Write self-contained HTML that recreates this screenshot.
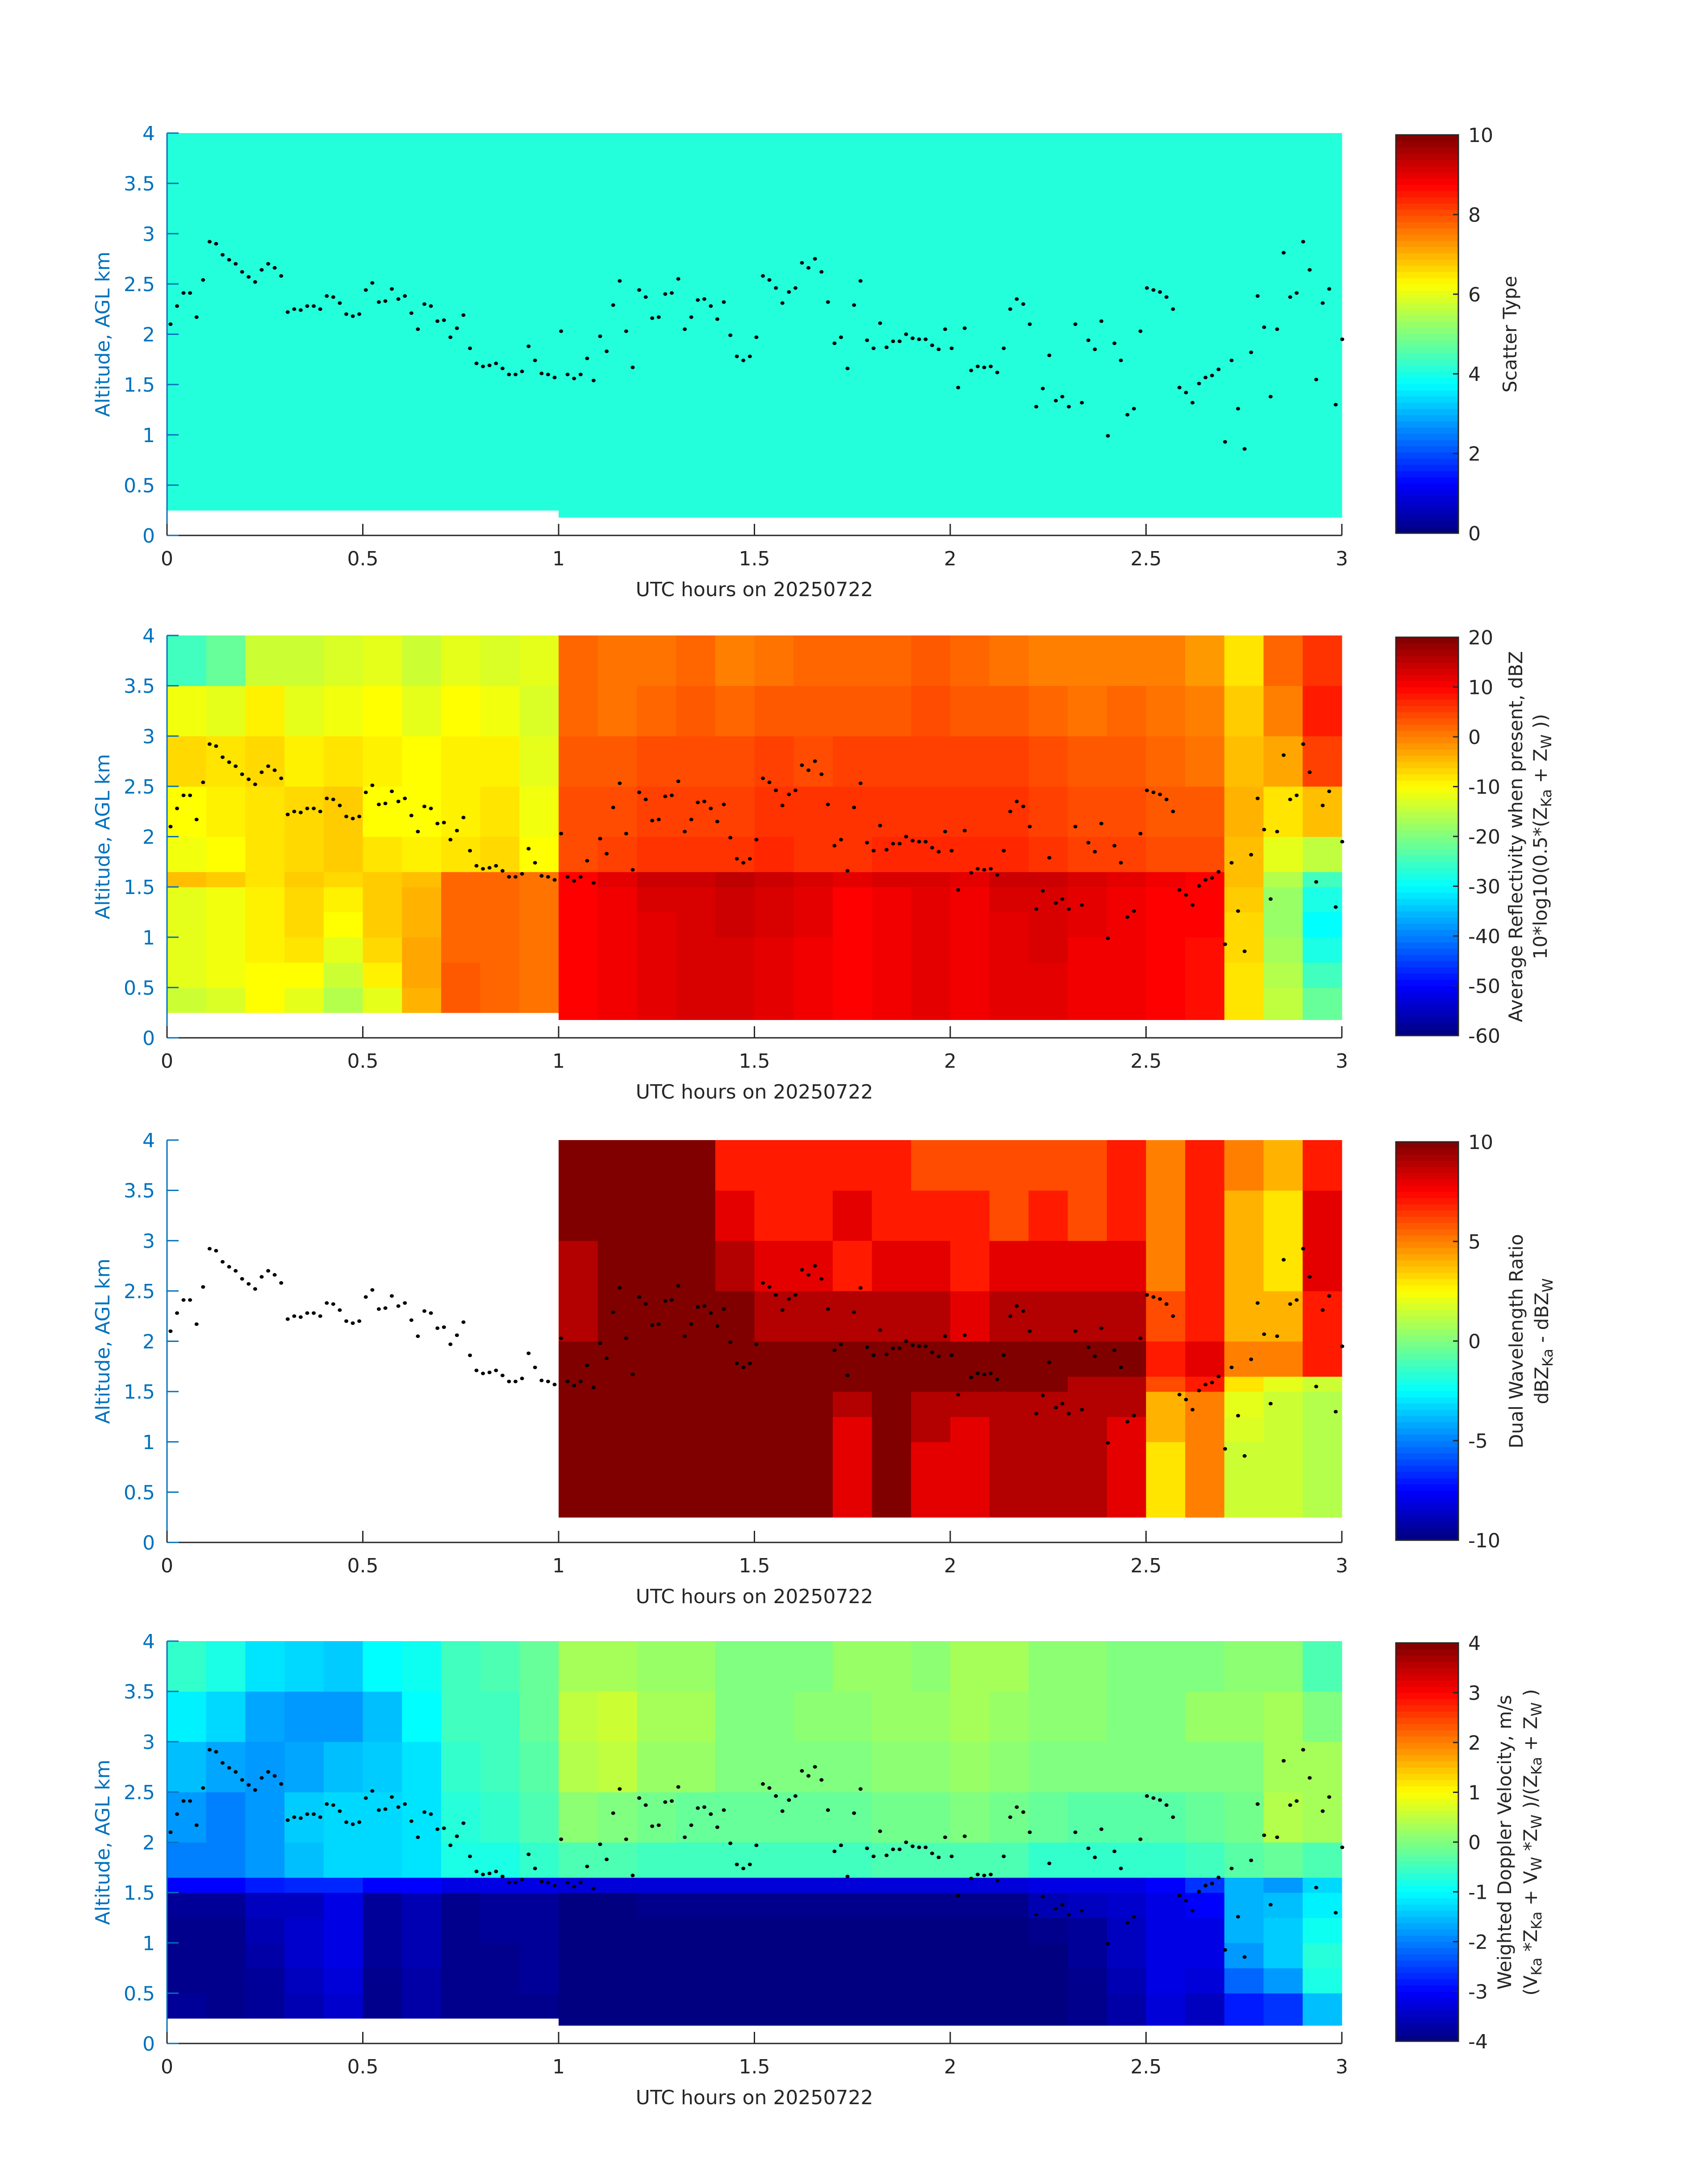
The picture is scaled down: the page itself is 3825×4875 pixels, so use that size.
<!DOCTYPE html>
<html><head><meta charset="utf-8"><style>
html,body{margin:0;padding:0;background:#fff;}
svg{display:block;font-family:"DejaVu Sans","Liberation Sans",sans-serif;}
</style></head><body>
<svg id="fig" xmlns="http://www.w3.org/2000/svg" width="3825" height="4875" viewBox="0 0 3825 4875"></svg>
<script>
// ---- data ----
const altEdges = [0.25,0.5,0.75,1.0,1.25,1.5,1.65,2.0,2.5,3.0,3.5,4.0];
const timeBins = [0,0.1,0.2,0.3,0.4,0.5,0.6,0.7,0.8,0.9,1.0,1.1,1.2,1.3,1.4,1.5,1.6,1.7,1.8,1.9,2.0,2.1,2.2,2.3,2.4,2.5,2.6,2.7,2.8,2.9];
const scatterValue = 4.1;
const reflectivity = [
[-14,-12,-12,-12,-12,-5,-11,-10,-7,-11,-25],
[-13,-11,-11,-11,-11,-6,-10,-9,-8,-12,-22],
[-10,-10,-9,-9,-9,-8,-8,-8,-7,-9,-14],
[-12,-10,-8,-7,-7,-6,-7,-7,-9,-12,-14],
[-16,-14,-12,-10,-9,-7,-6,-6,-8,-11,-13],
[-12,-9,-7,-6,-6,-6,-8,-10,-9,-10,-12],
[-4,-3,-3,-4,-4,-5,-9,-10,-10,-12,-14],
[3,3,2,2,2,2,-8,-9,-9,-10,-12],
[2,2,2,2,2,2,-7,-8,-9,-11,-13],
[1,1,1,1,1,1,-10,-11,-12,-13,-12],
[10,10,10,10,10,10,4,4,3,2,2],
[11,11,11,11,11,12,5,4,3,1,1],
[12,12,12,12,13,14,6,5,4,2,1],
[13,13,13,13,13,14,6,5,4,3,2],
[13,13,13,14,14,15,6,5,4,2,0],
[12,12,12,13,13,14,7,6,5,3,1],
[11,11,11,12,12,13,6,6,4,3,2],
[10,10,10,10,10,12,6,6,5,3,2],
[11,11,11,11,11,13,7,6,5,3,2],
[12,12,12,12,12,13,7,6,5,4,3],
[11,11,11,11,11,12,7,6,5,3,2],
[12,12,12,12,13,14,7,6,5,3,1],
[12,12,13,13,13,14,6,5,4,2,0],
[11,11,11,12,12,13,5,4,3,1,0],
[11,11,11,11,11,12,5,4,3,2,0],
[10,10,10,10,10,11,4,3,2,1,0],
[9,9,9,10,10,10,4,3,1,0,-2],
[-8,-8,-7,-7,-6,-5,-5,-4,-5,-6,-8],
[-15,-16,-17,-18,-18,-16,-12,-8,-3,0,2],
[-22,-25,-28,-30,-28,-25,-15,-5,5,8,6]
];
const dwr = [
null,null,null,null,null,null,null,null,null,null,
[10,10,10,10,10,10,10,9,9,10,10],
[10,10,10,10,10,10,10,10,10,10,10],
[10,10,10,10,10,10,10,10,10,10,10],
[10,10,10,10,10,10,10,10,10,10,10],
[10,10,10,10,10,10,10,10,9,8,7],
[10,10,10,10,10,10,10,9,8,7,7],
[10,10,10,10,10,10,10,9,8,7,7],
[8,8,8,8,9,10,10,9,7,8,7],
[10,10,10,10,10,10,10,9,8,7,7],
[8,8,8,9,9,10,10,9,8,7,6],
[8,8,8,8,9,10,10,8,7,7,6],
[9,9,9,9,9,10,10,9,8,6,6],
[9,9,9,9,9,10,10,9,8,7,6],
[9,9,9,9,9,9,10,9,8,6,6],
[8,8,8,8,9,9,10,9,8,7,7],
[3,3,3,4,4,6,7,6,5,5,5],
[5,5,5,5,5,7,8,7,7,7,7],
[1.5,1.5,1.5,1.8,2,3,5,4,4,4,5],
[1.5,1.5,1.5,1.5,1.5,2,5,4,3,3,4],
[1,1,1,1,1,1.5,7,7,8,8,7]
];
const velocity = [
[-3.8,-3.9,-3.9,-3.9,-3.8,-3,-2,-1.8,-1.5,-1.1,-0.6],
[-3.9,-3.9,-3.9,-3.9,-3.8,-3,-2,-2,-1.7,-1.3,-0.8],
[-3.8,-3.8,-3.7,-3.6,-3.5,-2.8,-1.8,-1.8,-1.8,-1.7,-1.2],
[-3.6,-3.5,-3.4,-3.4,-3.5,-2.7,-1.5,-1.4,-1.7,-1.8,-1.3],
[-3.4,-3.3,-3.2,-3.2,-3.2,-2.7,-1.3,-1.3,-1.5,-1.8,-1.4],
[-3.9,-3.9,-3.8,-3.8,-3.8,-3,-1.3,-1.3,-1.4,-1.5,-1.0],
[-3.7,-3.7,-3.6,-3.6,-3.6,-3,-1.2,-1.2,-1.2,-1.0,-0.9],
[-3.9,-3.9,-3.9,-3.9,-3.9,-3.2,-0.8,-0.7,-0.6,-0.5,-0.5],
[-3.9,-3.9,-3.9,-3.8,-3.8,-3.2,-0.8,-0.6,-0.5,-0.5,-0.4],
[-3.9,-3.8,-3.8,-3.8,-3.8,-3.2,-0.6,-0.4,-0.3,-0.2,-0.2],
[-4,-4,-4,-4,-4,-3.3,-0.4,0.1,0.4,0.5,0.3],
[-4,-4,-4,-4,-4,-3.3,-0.4,0,0.5,0.6,0.3],
[-4,-4,-4,-4,-3.9,-3.3,-0.5,-0.1,0.2,0.3,0.2],
[-4,-4,-4,-4,-3.9,-3.3,-0.5,-0.2,0.2,0.3,0.2],
[-4,-4,-4,-4,-3.9,-3.3,-0.5,-0.2,0,0,0],
[-4,-4,-4,-4,-3.9,-3.3,-0.5,-0.2,0,0,0],
[-4,-4,-4,-4,-3.9,-3.3,-0.5,-0.2,0,0.1,0],
[-4,-4,-4,-4,-3.9,-3.3,-0.5,-0.2,0,0.1,0.2],
[-4,-4,-4,-4,-3.9,-3.3,-0.4,-0.1,0.1,0.2,0.2],
[-4,-4,-4,-4,-3.9,-3.3,-0.4,-0.1,0.1,0.2,0.1],
[-4,-4,-4,-4,-3.9,-3.3,-0.4,0,0.2,0.3,0.3],
[-4,-4,-4,-4,-3.9,-3.3,-0.4,-0.1,0.1,0.2,0.3],
[-4,-4,-4,-3.9,-3.6,-3.2,-0.6,-0.2,0,0.1,0.1],
[-3.9,-3.9,-3.8,-3.8,-3.5,-3.2,-0.6,-0.3,0,0.1,0.1],
[-3.7,-3.6,-3.5,-3.5,-3.4,-3.2,-0.6,-0.3,0,0,0],
[-3.3,-3.2,-3.2,-3.2,-3.2,-3,-0.6,-0.3,0,0,0],
[-3.5,-3.3,-3.2,-3.2,-3,-2.6,-0.5,-0.2,0,0.2,0],
[-2.8,-2.2,-1.8,-1.6,-1.6,-1.6,-0.3,-0.1,0,0.2,0.1],
[-2.6,-1.8,-1.4,-1.4,-1.5,-1.8,-0.2,0.4,0.3,0.3,0.1],
[-1.5,-0.8,-0.7,-0.9,-1.1,-1.3,-0.4,0.3,0.3,0,-0.4]
];
const cloudTop = [2.10,2.28,2.41,2.41,2.17,2.54,2.92,2.90,2.79,2.74,2.70,2.62,2.57,2.52,2.64,2.70,2.66,2.58,2.22,2.25,2.24,2.28,2.28,2.25,2.38,2.37,2.31,2.20,2.18,2.20,2.44,2.51,2.32,2.33,2.45,2.35,2.38,2.21,2.05,2.30,2.28,2.13,2.14,1.97,2.06,2.19,1.86,1.71,1.68,1.69,1.71,1.66,1.60,1.60,1.63,1.88,1.74,1.61,1.60,1.57,2.03,1.60,1.56,1.60,1.76,1.54,1.98,1.83,2.29,2.53,2.03,1.67,2.44,2.37,2.16,2.17,2.40,2.41,2.55,2.05,2.17,2.34,2.35,2.28,2.15,2.32,1.99,1.78,1.74,1.78,1.97,
2.58,2.54,2.46,2.31,2.42,2.46,2.71,2.66,2.75,2.62,2.32,1.91,1.97,1.66,2.29,2.53,1.94,1.86,2.11,1.87,1.93,1.93,2.00,1.96,1.95,1.95,1.89,1.85,2.05,1.86,1.47,2.06,1.64,1.68,1.67,1.68,1.62,1.86,2.25,2.35,2.30,2.10,1.28,1.46,1.79,1.34,1.38,1.28,2.10,1.32,1.94,1.85,2.13,0.99,1.91,1.74,1.20,1.26,2.03,2.46,2.44,2.42,2.37,2.25,1.47,1.42,1.32,1.51,1.57,1.59,1.65,0.93,1.74,1.26,0.86,1.82,2.38,2.07,1.38,2.05,2.81,2.37,2.41,2.92,2.64,1.55,2.31,2.45,1.30,1.95];
const xTicks = [0,0.5,1,1.5,2,2.5,3];
const yTicks = [0,0.5,1,1.5,2,2.5,3,3.5,4];
const cb1Ticks = [0,2,4,6,8,10];
const cb2Ticks = [-60,-50,-40,-30,-20,-10,0,10,20];
const cb3Ticks = [-10,-5,0,5,10];
const cb4Ticks = [-4,-3,-2,-1,0,1,2,3,4];

// ---- layout ----
const NS = "http://www.w3.org/2000/svg";
const svg = document.getElementById('fig');
const AX_L = 374, AX_R = 3005, AX_H = 901;
const panelTops = [298, 1423, 2553, 3675];
const CB_L = 3126, CB_R = 3266;
const BLUE = '#0072BD', DARK = '#262626';

function el(tag, attrs, parent) {
  const e = document.createElementNS(NS, tag);
  for (const k in attrs) e.setAttribute(k, attrs[k]);
  (parent || svg).appendChild(e);
  return e;
}
function jet(n) {
  n = Math.max(0, Math.min(1, n));
  const c = v => Math.round(255 * Math.max(0, Math.min(1, v)));
  return 'rgb(' + c(1.5 - Math.abs(4*n - 3)) + ',' + c(1.5 - Math.abs(4*n - 2)) + ',' + c(1.5 - Math.abs(4*n - 1)) + ')';
}
const xScale = t => AX_L + t / 3 * (AX_R - AX_L);
function yScaleFor(top) { return a => top + AX_H - a / 4 * AX_H; }

function drawPanel(pi, grid, vmin, vmax, cbTicks, cbLabelLines, startAfter1) {
  const top = panelTops[pi];
  const y = yScaleFor(top);
  const g = el('g', {});
  
  
  const hm = el('g', {}, g);
  
  
  for (let i = 0; i < timeBins.length; i++) {
    const col = grid === null ? null : grid[i];
    if (grid !== null && col === null) continue;
    const t0 = timeBins[i], t1 = t0 + 0.1;
    for (let j = 0; j < altEdges.length - 1; j++) {
      let a0 = altEdges[j];
      if (j === 0 && t0 >= 1 && !startAfter1) a0 = 0.18;
      const a1 = altEdges[j + 1];
      const v = grid === null ? scatterValue : col[j];
      const x0 = xScale(t0), x1 = xScale(t1);
      const r = el('rect', {x: x0.toFixed(1), y: y(a1).toFixed(1), width: (x1 - x0 + 0.6).toFixed(1), height: (y(a0) - y(a1) + 0.6).toFixed(1), fill: jet((v - vmin) / (vmax - vmin))}, hm);
      
      
    }
  }
  const dg = el('g', {}, g);
  
  
  const n = cloudTop.length;
  for (let k = 0; k < n; k++) {
    const t = 0.009 + k * (2.992 / (n - 1));
    const d = el('ellipse', {cx: xScale(t).toFixed(1), cy: y(cloudTop[k]).toFixed(1), rx: 4.5, ry: 4, fill: '#000'}, dg);
    
    
  }
  const ax = el('g', {}, g);
  
  
  el('line', {x1: AX_L, y1: top, x2: AX_L, y2: top + AX_H, stroke: BLUE, 'stroke-width': 3}, ax);
  el('line', {x1: AX_L, y1: top + AX_H, x2: AX_R, y2: top + AX_H, stroke: DARK, 'stroke-width': 3}, ax);
  yTicks.forEach(v => {
    el('line', {x1: AX_L, y1: y(v), x2: AX_L + 26, y2: y(v), stroke: BLUE, 'stroke-width': 3}, ax);
    const tx = el('text', {x: 347, y: y(v) + 16, 'text-anchor': 'end', 'font-size': 44, fill: BLUE}, ax);
    tx.textContent = v;
    
    
  });
  xTicks.forEach(v => {
    el('line', {x1: xScale(v), y1: top + AX_H, x2: xScale(v), y2: top + AX_H - 26, stroke: DARK, 'stroke-width': 3}, ax);
    const tx = el('text', {x: xScale(v), y: top + AX_H + 67, 'text-anchor': 'middle', 'font-size': 44, fill: DARK}, ax);
    tx.textContent = v;
    
    
  });
  const xl = el('text', {x: (AX_L + AX_R) / 2, y: top + AX_H + 136, 'text-anchor': 'middle', 'font-size': 44, fill: DARK}, ax);
  xl.textContent = 'UTC hours on 20250722';
  
  
  const cy = top + AX_H / 2;
  const yl = el('text', {x: 0, y: 0, transform: 'translate(245,' + cy + ') rotate(-90)', 'text-anchor': 'middle', 'font-size': 44, fill: BLUE}, ax);
  yl.textContent = 'Altitude, AGL km';
  
  
  const cbTop = top + 4, cbBot = top + AX_H - 5;
  const cb = el('g', {}, g);
  
  
  const steps = 64, h = (cbBot - cbTop) / steps;
  for (let s = 0; s < steps; s++) {
    el('rect', {x: CB_L, y: (cbBot - (s + 1) * h).toFixed(2), width: CB_R - CB_L, height: (h + 0.6).toFixed(2), fill: jet((s + 0.5) / steps)}, cb);
  }
  el('rect', {x: CB_L, y: cbTop, width: CB_R - CB_L, height: cbBot - cbTop, fill: 'none', stroke: DARK, 'stroke-width': 3}, cb);
  cbTicks.forEach(v => {
    const yy = cbBot - (v - vmin) / (vmax - vmin) * (cbBot - cbTop);
    el('line', {x1: CB_R - 12, y1: yy, x2: CB_R, y2: yy, stroke: DARK, 'stroke-width': 3}, cb);
    const tx = el('text', {x: 3288, y: yy + 16, 'font-size': 44, fill: DARK}, cb);
    tx.textContent = v;
    
    
  });
  cbLabelLines.forEach(([cx, html]) => {
    const tx = el('text', {x: 0, y: 0, transform: 'translate(' + (cx + 15) + ',' + cy + ') rotate(-90)', 'text-anchor': 'middle', 'font-size': 42, fill: DARK}, cb);
    tx.innerHTML = html;
    
    
  });
}
const sub = s => '<tspan dy="10" font-size="32">' + s + '</tspan><tspan dy="-10"> </tspan>';
drawPanel(0, null, 0, 10, cb1Ticks, [[3381, 'Scatter Type']], false);
drawPanel(1, reflectivity, -60, 20, cb2Ticks, [[3394, 'Average Reflectivity when present, dBZ'], [3449, '10*log10(0.5*(Z' + sub('Ka') + '+ Z' + sub('W') + '))']], false);
drawPanel(2, dwr, -10, 10, cb3Ticks, [[3395, 'Dual Wavelength Ratio'], [3452, 'dBZ' + sub('Ka') + '- dBZ' + sub('W')]], true);
drawPanel(3, velocity, -4, 4, cb4Ticks, [[3369, 'Weighted Doppler Velocity, m/s'], [3427, '(V' + sub('Ka') + '*Z' + sub('Ka') + '+ V' + sub('W') + '*Z' + sub('W') + ')/(Z' + sub('Ka') + '+ Z' + sub('W') + ')']], false);
</script>
</body></html>
